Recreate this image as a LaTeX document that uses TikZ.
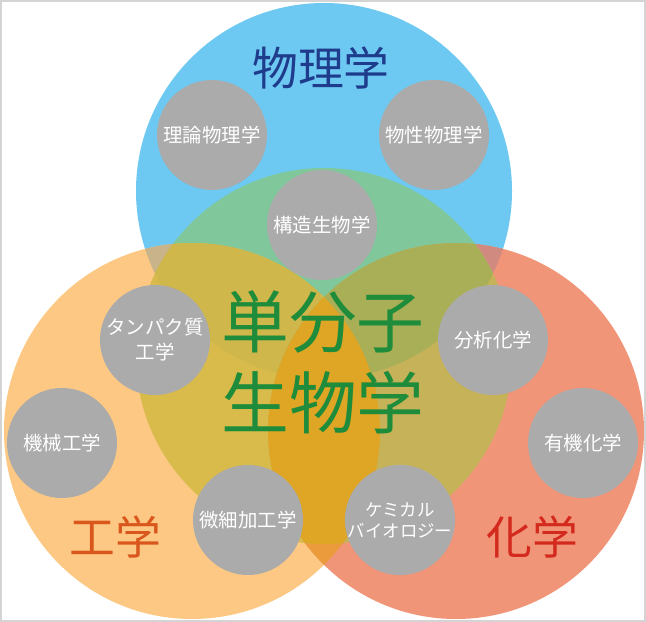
\documentclass[tikz,border=0pt]{standalone}
\usepackage{fontspec}
\newfontfamily\jp{Noto Sans CJK JP}
\definecolor{cB}{HTML}{6DC9F1}
\definecolor{cO}{HTML}{FDC883}
\definecolor{cR}{HTML}{F19579}
\definecolor{cBO}{HTML}{C9B38A}
\definecolor{cBR}{HTML}{D18A7F}
\definecolor{cOR}{HTML}{EB9A3C}
\definecolor{cGB}{HTML}{80C89C}
\definecolor{cGO}{HTML}{D8BB4B}
\definecolor{cGR}{HTML}{C6B259}
\definecolor{cGBO}{HTML}{CFB74B}
\definecolor{cGBR}{HTML}{A9AF56}
\definecolor{cGOR}{HTML}{DFA524}
\definecolor{subgray}{HTML}{ABABAB}
\definecolor{tPhys}{HTML}{1F3C8C}
\definecolor{tBio}{HTML}{1E8C3A}
\definecolor{tEng}{HTML}{D9561C}
\definecolor{tChem}{HTML}{D42A1E}
\definecolor{frame}{HTML}{D4D4D4}
\def\Bc{(324,191) circle[radius=188bp]}
\def\Gc{(324,356) circle[radius=188bp]}
\def\Oc{(192,431) circle[radius=188bp]}
\def\Rc{(456,431) circle[radius=188bp]}
\begin{document}
\begin{tikzpicture}[x=1bp,y=-1bp,
  sub/.style={circle, fill=subgray, minimum size=110bp, inner sep=0pt, text=white,
    font=\jp\fontsize{19.5}{25}\selectfont, align=center},
  subsmall/.style={sub, font=\jp\fontsize{17.5}{21}\selectfont},
  big/.style={font=\jp\fontsize{46}{50}\selectfont, inner sep=0pt},
  huge/.style={font=\jp\fontsize{68}{81}\selectfont, inner sep=0pt, align=center}]
\useasboundingbox (0,0) rectangle (646,622);
\fill[white] (0,0) rectangle (646,622);
% base circles
\fill[cB] \Bc;
\fill[cO] \Oc;
\fill[cR] \Rc;
\begin{scope}
  \clip \Bc;
  \fill[cBO] \Oc;
  \fill[cBR] \Rc;
\end{scope}
\begin{scope}
  \clip \Oc;
  \fill[cOR] \Rc;
\end{scope}
% central circle overlaps
\begin{scope}
  \clip \Gc;
  \fill[cGB] \Bc;
  \fill[cGO] \Oc;
  \fill[cGR] \Rc;
  \begin{scope}
    \clip \Bc;
    \fill[cGBO] \Oc;
    \fill[cGBR] \Rc;
  \end{scope}
  \begin{scope}
    \clip \Oc;
    \fill[cGOR] \Rc;
  \end{scope}
\end{scope}
% frame
\draw[frame, line width=2bp] (1,1) rectangle (645,621);
% sub-field circles
\node[sub] (riron) at (212,135) {理論物理学};
\node[sub] (bussei) at (434,135) {物性物理学};
\node[sub] (kouzou) at (322,225) {構造生物学};
\node[sub] (tanpaku) at (155,340) {タンパク質\\工学};
\node[sub] (bunseki) at (493,340) {分析化学};
\node[sub] (kikai) at (62,443) {機械工学};
\node[sub] (yuuki) at (583,443) {有機化学};
\node[sub] (bisai) at (248,520) {微細加工学};
\node[subsmall] (chemibio) at (400,520) {ケミカル\\バイオロジー};
% field labels
\node[big, text=tPhys] (phys) at (321,68) {物理学};
\node[big, text=tEng] (eng) at (115,537) {工学};
\node[big, text=tChem] (chem) at (532,537) {化学};
\node[huge, text=tBio] (bio) at (323,362) {単分子\\生物学};
\end{tikzpicture}
\end{document}
